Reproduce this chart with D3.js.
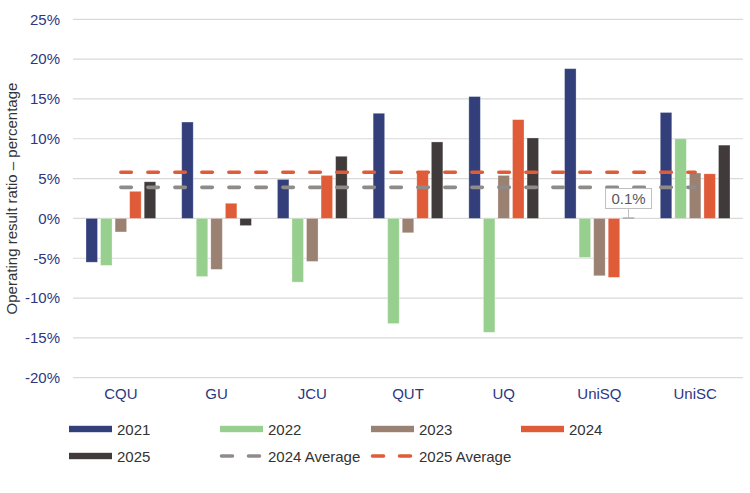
<!DOCTYPE html>
<html><head><meta charset="utf-8">
<script src="https://cdn.jsdelivr.net/npm/d3@7"></script>
<style>
html,body{margin:0;padding:0;background:#fff;}
svg{display:block;font-family:"Liberation Sans",Arial,sans-serif;}
</style></head>
<body><svg id="c" width="750" height="493"></svg>
<script>
const categories = ["CQU","GU","JCU","QUT","UQ","UniSQ","UniSC"];
const seriesNames = ["2021","2022","2023","2024","2025"];
const v2021 = [-5.5, 12.1, 4.9, 13.2, 15.3, 18.8, 13.3];
const v2022 = [-5.9, -7.3, -8.0, -13.2, -14.3, -4.9, 10.0];
const v2023 = [-1.7, -6.4, -5.4, -1.8, 5.4, -7.2, 5.7];
const v2024 = [3.4, 1.9, 5.4, 5.9, 12.4, -7.4, 5.6];
const v2025 = [4.6, -0.9, 7.8, 9.6, 10.1, 0.1, 9.2];
const avg2024 = 3.9;
const avg2025 = 5.8;
const yTicks = [-20,-15,-10,-5,0,5,10,15,20,25];
const seriesColors = ["#333f7b","#97d08e","#9b8171","#e05b37","#403b3a"];
const avgColors = {"2024 Average":"#8f8b89","2025 Average":"#e05b37"};

const values = [v2021, v2022, v2023, v2024, v2025];
const svg = d3.select("#c");
const L = 73, R = 743, T = 19.3, B = 377.7;

const x0 = d3.scaleBand().domain(categories).range([L, R]).padding(0);
const x1 = d3.scaleBand().domain(seriesNames).range([13, x0.bandwidth()-13]).paddingInner(0.21).paddingOuter(0);
const y = d3.scaleLinear().domain([-20, 25]).range([B, T]);

// gridlines
svg.append("g").selectAll("line").data(yTicks).join("line")
  .attr("x1", L).attr("x2", R)
  .attr("y1", d => y(d)).attr("y2", d => y(d))
  .attr("stroke", "#d9d9d9").attr("stroke-width", 1.2);

// y axis labels
const yAxis = d3.axisLeft(y).tickValues(yTicks).tickFormat(d => d + "%").tickSize(0).tickPadding(0);
const gy = svg.append("g").attr("transform", `translate(60,0)`).call(yAxis);
gy.select(".domain").remove();
gy.selectAll("text").attr("font-size", 15).attr("fill", "#2c3780").attr("font-family", "Liberation Sans, Arial, sans-serif");

// x axis labels
const xAxis = d3.axisBottom(x0).tickSize(0).tickPadding(0);
const gx = svg.append("g").attr("transform", `translate(0,388)`).call(xAxis);
gx.select(".domain").remove();
gx.selectAll("text").attr("font-size", 15).attr("fill", "#2c3780").attr("font-family", "Liberation Sans, Arial, sans-serif");

// y title
svg.append("text")
  .attr("transform", `translate(17,${(T+B)/2}) rotate(-90)`)
  .attr("text-anchor", "middle")
  .attr("font-size", 15).attr("fill", "#333")
  .text("Operating result ratio – percentage");

// bars
const barData = [];
categories.forEach((c, i) => {
  seriesNames.forEach((s, j) => barData.push({c, s, v: values[j][i], color: seriesColors[j]}));
});
svg.append("g").selectAll("rect").data(barData).join("rect")
  .attr("x", d => x0(d.c) + x1(d.s))
  .attr("width", x1.bandwidth())
  .attr("y", d => y(Math.max(0, d.v)))
  .attr("height", d => Math.abs(y(d.v) - y(0)))
  .attr("fill", d => d.color)
  .attr("stroke", "#ffffff").attr("stroke-opacity", 0.35).attr("stroke-width", 0.8);

// average lines
const cx = c => x0(c) + x0.bandwidth()/2;
const line = d3.line().x(d => cx(d.c)).y(d => y(d.v));
[["2024 Average", avg2024], ["2025 Average", avg2025]].forEach(([name, val]) => {
  svg.append("path")
    .datum(categories.map(c => ({c, v: val})))
    .attr("d", line)
    .attr("fill", "none")
    .attr("stroke", avgColors[name])
    .attr("stroke-width", 3.6)
    .attr("stroke-linecap", "round")
    .attr("stroke-dasharray", "10.5 16.5");
});

// data label for UniSQ 2025
(function(){
  const i = categories.indexOf("UniSQ");
  const val = v2025[i];
  const bx = x0("UniSQ") + x1("2025") + x1.bandwidth()/2;
  const g = svg.append("g");
  g.append("line").attr("x1", bx).attr("x2", bx).attr("y1", 208.5).attr("y2", y(val))
    .attr("stroke", "#bfbfbf").attr("stroke-width", 1);
  g.append("rect").attr("x", bx - 23).attr("y", 188.5).attr("width", 46).attr("height", 20)
    .attr("fill", "#fff").attr("stroke", "#bfbfbf").attr("stroke-width", 1);
  g.append("text").attr("x", bx).attr("y", 204).attr("text-anchor", "middle")
    .attr("font-size", 15).attr("fill", "#595959").text(d3.format(".1f")(val) + "%");
})();

// legend
const legendItems = [
  {name:"2021", type:"bar", color:seriesColors[0], x:69, y:429},
  {name:"2022", type:"bar", color:seriesColors[1], x:220, y:429},
  {name:"2023", type:"bar", color:seriesColors[2], x:371, y:429},
  {name:"2024", type:"bar", color:seriesColors[3], x:521, y:429},
  {name:"2025", type:"bar", color:seriesColors[4], x:69, y:456},
  {name:"2024 Average", type:"dash", color:avgColors["2024 Average"], x:220, y:456},
  {name:"2025 Average", type:"dash", color:avgColors["2025 Average"], x:371, y:456}
];
const lg = svg.append("g").selectAll("g").data(legendItems).join("g")
  .attr("transform", d => `translate(${d.x},${d.y})`);
lg.filter(d => d.type === "bar").append("rect")
  .attr("x", 0).attr("y", -3.2).attr("width", 43).attr("height", 6.4)
  .attr("fill", d => d.color);
lg.filter(d => d.type === "dash").append("line")
  .attr("x1", 1.5).attr("x2", 41.5).attr("y1", 0).attr("y2", 0)
  .attr("stroke", d => d.color).attr("stroke-width", 3.6)
  .attr("stroke-linecap", "round").attr("stroke-dasharray", "11 16");
lg.append("text").attr("x", d => d.type === "bar" ? 48 : 48).attr("y", 5.5)
  .attr("font-size", 15).attr("fill", "#333").text(d => d.name);
</script></body></html>
